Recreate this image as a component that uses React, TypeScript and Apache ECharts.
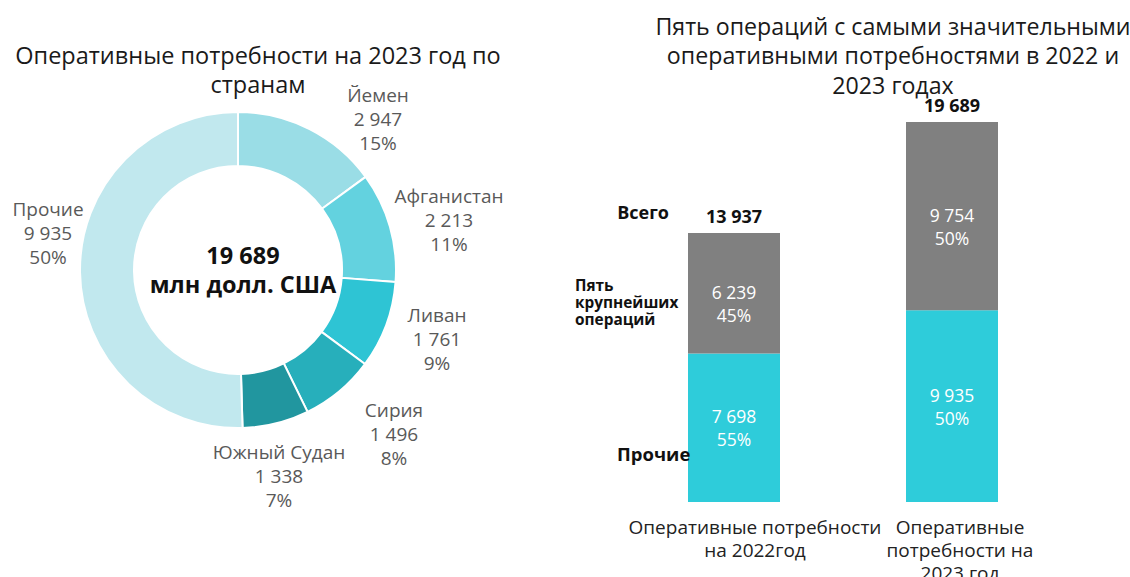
import React, { useEffect, useRef } from "react";
import * as echarts from "echarts";

const countries = ["Йемен", "Афганистан", "Ливан", "Сирия", "Южный Судан", "Прочие"];
const countryValues = [2947, 2213, 1761, 1496, 1338, 9935];
const sliceColors = ["#9ADDE6", "#63D2DF", "#2EC4D4", "#27AFBB", "#21969F", "#C1E8EE"];

const barCategories = ["Оперативные потребности\nна 2022год", "Оперативные\nпотребности на\n2023 год"];
const othersValues = [7698, 9935];
const topFiveValues = [6239, 9754];
const totals = [13937, 19689];

// label placement (style only)
const labelPos: [number, number][] = [
  [378, 119],
  [449, 220],
  [437, 339],
  [394, 434],
  [279, 476],
  [48, 233],
];

const fmt = (v: number) => String(Math.round(v)).replace(/\B(?=(\d{3})+(?!\d))/g, " ");
const FONT = "'Open Sans', 'Noto Sans', sans-serif";

export default function App() {
  const ref = useRef<HTMLDivElement>(null);
  useEffect(() => {
    if (!ref.current) return;
    const chart = echarts.init(ref.current, undefined, { renderer: "svg" });
    chart.setOption({
      animation: false,
      textStyle: { fontFamily: FONT },
      title: [
        {
          text: "Оперативные потребности на 2023 год по\nстранам",
          left: 253,
          top: 35,
          textAlign: "center",
          textStyle: { fontFamily: FONT, fontSize: 23.5, fontWeight: "normal", color: "#1a1a1a", lineHeight: 29 },
        },
        {
          text: "Пять операций с самыми значительными\nоперативными потребностями в 2022 и\n2023 годах",
          left: 888,
          top: 6,
          textAlign: "center",
          textStyle: { fontFamily: FONT, fontSize: 23.2, fontWeight: "normal", color: "#1a1a1a", lineHeight: 29.5 },
        },
      ],
      graphic: [
        {
          type: "text",
          x: 243,
          y: 269,
          style: {
            text: fmt(totals[1]) + "\nмлн долл. США",
            font: `bold 23.5px ${FONT}`,
            fill: "#111",
            align: "center",
            verticalAlign: "middle",
            lineHeight: 29,
          },
        },
        {
          type: "text",
          x: 669,
          y: 212,
          style: { text: "Всего", font: `bold 18px ${FONT}`, fill: "#111", align: "right", verticalAlign: "middle" },
        },
        {
          type: "text",
          x: 575,
          y: 302,
          style: {
            text: "Пять\nкрупнейших\nопераций",
            font: `bold 15.4px ${FONT}`,
            fill: "#111",
            align: "left",
            verticalAlign: "middle",
            lineHeight: 17,
          },
        },
        {
          type: "text",
          x: 617,
          y: 453,
          z: 10,
          style: { text: "Прочие", font: `bold 18.5px ${FONT}`, fill: "#111", align: "left", verticalAlign: "middle" },
        },
      ],
      grid: { left: 625, width: 436, top: 116, height: 386, containLabel: false, outerBoundsMode: "none" },
      xAxis: {
        type: "category",
        data: barCategories,
        axisLine: { show: false },
        axisTick: { show: false },
        axisLabel: {
          margin: 13,
          interval: 0,
          formatter: (v: string, i: number) => (i === 0 ? `{a|${v}}` : `{b|${v}}`),
          rich: {
            a: { fontFamily: FONT, fontSize: 19, color: "#222", lineHeight: 23, padding: [0, 0, 0, 42], align: "center" },
            b: { fontFamily: FONT, fontSize: 19, color: "#222", lineHeight: 23, padding: [0, 0, 0, 16], align: "center" },
          },
        },
      },
      yAxis: { type: "value", min: 0, max: 20000, show: false, splitLine: { show: false } },
      series: [
        {
          type: "pie",
          center: [238, 270],
          radius: [104, 158],
          startAngle: 90,
          clockwise: true,
          percentPrecision: 0,
          itemStyle: { borderColor: "#fff", borderWidth: 2 },
          label: {
            show: true,
            position: "outside",
            formatter: (p: any) => `${p.name}\n${fmt(p.value)}\n${p.percent}%`,
            fontFamily: FONT,
            fontSize: 19,
            lineHeight: 24,
            color: "#595959",
            align: "center",
            overflow: "none",
          },
          labelLine: { show: false },
          labelLayout: (p: any) => ({
            x: labelPos[p.dataIndex][0],
            y: labelPos[p.dataIndex][1],
            align: "center",
            verticalAlign: "middle",
            hideOverlap: false,
          }),
          emphasis: { disabled: true },
          data: countries.map((n, i) => ({ name: n, value: countryValues[i], itemStyle: { color: sliceColors[i] } })),
        },
        {
          type: "bar",
          name: "Прочие",
          stack: "s",
          barWidth: 92,
          itemStyle: { color: "#2ECCDA" },
          label: {
            show: true,
            position: "inside",
            color: "#fff",
            fontFamily: FONT,
            fontSize: 17.5,
            lineHeight: 23,
            formatter: (p: any) => `${fmt(p.value)}\n${Math.round((p.value / totals[p.dataIndex]) * 100)}%`,
          },
          emphasis: { disabled: true },
          data: othersValues,
        },
        {
          type: "bar",
          name: "Пять крупнейших операций",
          stack: "s",
          barWidth: 92,
          itemStyle: { color: "#808080" },
          label: {
            show: true,
            position: "inside",
            offset: [0, 10],
            color: "#fff",
            fontFamily: FONT,
            fontSize: 17.5,
            lineHeight: 23,
            formatter: (p: any) => `${fmt(p.value)}\n${Math.round((p.value / totals[p.dataIndex]) * 100)}%`,
          },
          emphasis: { disabled: true },
          data: topFiveValues,
        },
        {
          type: "line",
          name: "Всего",
          data: totals,
          symbol: "circle",
          symbolSize: 1,
          showSymbol: true,
          itemStyle: { color: "rgba(0,0,0,0)" },
          lineStyle: { opacity: 0, width: 0 },
          label: {
            show: true,
            position: "top",
            distance: 8,
            color: "#111",
            fontFamily: FONT,
            fontSize: 18,
            fontWeight: "bold",
            formatter: (p: any) => fmt(p.value),
          },
          emphasis: { disabled: true },
        },
      ],
    });
    return () => chart.dispose();
  }, []);
  return <div ref={ref} style={{ position: "absolute", left: 0, top: 0, width: 1130, height: 577 }} />;
}
